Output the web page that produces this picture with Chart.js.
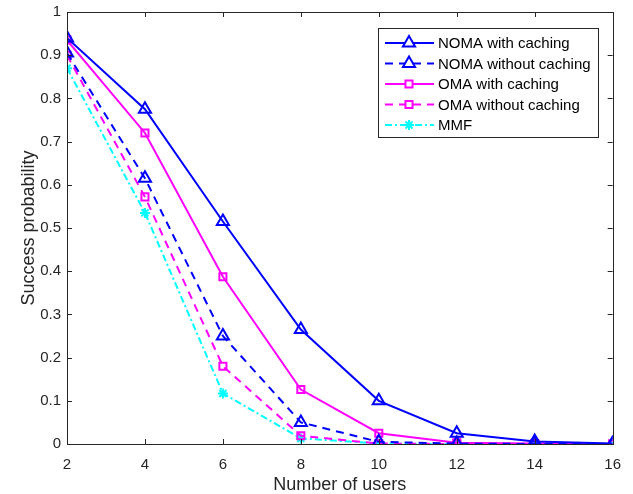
<!DOCTYPE html>
<html>
<head>
<meta charset="utf-8">
<script src="https://cdn.jsdelivr.net/npm/chart.js@4/dist/chart.umd.min.js"></script>
<style>
  html, body { margin: 0; padding: 0; background: #fff; }
  #wrap { width: 633px; height: 494px; }
</style>
</head>
<body>
<div id="wrap"><canvas id="successChart" width="633" height="494"></canvas></div>
<script>
var users = [2, 4, 6, 8, 10, 12, 14, 16];
var xTicks = [2, 4, 6, 8, 10, 12, 14, 16];
var yTicks = [0, 0.1, 0.2, 0.3, 0.4, 0.5, 0.6, 0.7, 0.8, 0.9, 1];

var nomaCaching   = [0.940, 0.775, 0.515, 0.265, 0.100, 0.025, 0.006, 0.001];
var nomaNoCaching = [0.905, 0.615, 0.250, 0.050, 0.005, 0.001, 0.000, 0.000];
var omaCaching    = [0.935, 0.720, 0.387, 0.126, 0.025, 0.003, 0.001, 0.000];
var omaNoCaching  = [0.900, 0.572, 0.180, 0.019, 0.001, 0.000, 0.000, 0.000];
var mmf           = [0.870, 0.535, 0.117, 0.013, 0.001, 0.000, 0.000, 0.000];

var seriesNames = ["NOMA with caching", "NOMA without caching", "OMA with caching", "OMA without caching", "MMF"];

var FONT = '"Liberation Sans", Arial, sans-serif';

function toPoints(vals) {
    var pts = [];
    for (var i = 0; i < users.length; i++) {
        pts.push({ x: users[i], y: vals[i] });
    }
    return pts;
}

function makeSet(label, vals, color, dash, style, radius) {
    var fillCol = style === 'star' ? color : 'rgba(0,0,0,0)';
    return {
        label: label,
        data: toPoints(vals),
        borderColor: color,
        backgroundColor: fillCol,
        borderWidth: 2,
        borderDash: dash,
        pointStyle: style,
        pointRadius: radius,
        pointBorderWidth: 2,
        pointBorderColor: color,
        pointBackgroundColor: fillCol,
        tension: 0,
        fill: false
    };
}

var datasets = [
    makeSet(seriesNames[0], nomaCaching, '#0000ff', [], 'triangle', 7),
    makeSet(seriesNames[1], nomaNoCaching, '#0000ff', [8, 6], 'triangle', 7),
    makeSet(seriesNames[2], omaCaching, '#ff00ff', [], 'rect', 5),
    makeSet(seriesNames[3], omaNoCaching, '#ff00ff', [8, 6], 'rect', 5),
    makeSet(seriesNames[4], mmf, '#00ffff', [7, 3, 2, 3], 'star', 5)
];

// box, inward ticks on all four sides, and the legend
var framePlugin = {
    id: 'frame',
    afterDraw: function (chart) {
        var ctx = chart.ctx;
        var a = chart.chartArea;
        var xs = chart.scales.x, ys = chart.scales.y;
        ctx.save();
        ctx.strokeStyle = '#262626';
        ctx.lineWidth = 1;
        ctx.setLineDash([]);
        ctx.beginPath();
        for (var i = 0; i < xTicks.length; i++) {
            var px = Math.round(xs.getPixelForValue(xTicks[i])) + 0.5;
            ctx.moveTo(px, a.bottom); ctx.lineTo(px, a.bottom - 5);
            ctx.moveTo(px, a.top); ctx.lineTo(px, a.top + 5);
        }
        for (var j = 0; j < yTicks.length; j++) {
            var py = Math.round(ys.getPixelForValue(yTicks[j])) + 0.5;
            ctx.moveTo(a.left, py); ctx.lineTo(a.left + 5, py);
            ctx.moveTo(a.right, py); ctx.lineTo(a.right - 5, py);
        }
        ctx.stroke();
        ctx.strokeRect(Math.round(a.left) + 0.5, Math.round(a.top) + 0.5,
            Math.round(a.right - a.left), Math.round(a.bottom - a.top));

        // legend
        var lx = 378, ly = 28, lw = 220, lh = 109;
        ctx.fillStyle = '#fff';
        ctx.fillRect(lx, ly, lw, lh);
        ctx.strokeStyle = '#262626';
        ctx.strokeRect(lx + 0.5, ly + 0.5, lw, lh);
        ctx.font = '15px ' + FONT;
        ctx.textBaseline = 'middle';
        for (var k = 0; k < datasets.length; k++) {
            var d = datasets[k];
            var cy = 43 + k * 20.5;
            ctx.strokeStyle = d.borderColor;
            ctx.lineWidth = 2;
            ctx.setLineDash(d.borderDash);
            ctx.beginPath();
            ctx.moveTo(385, cy); ctx.lineTo(434, cy);
            ctx.stroke();
            ctx.setLineDash([]);
            ctx.fillStyle = d.pointStyle === 'star' ? d.borderColor : '#fff';
            Chart.helpers.drawPoint(ctx, {
                pointStyle: d.pointStyle,
                radius: d.pointRadius,
                borderWidth: 2,
                rotation: 0
            }, 409, cy);
            ctx.fillStyle = '#000';
            ctx.fillText(d.label, 438, cy + 1);
        }
        ctx.restore();
    }
};

var ctx = document.getElementById('successChart').getContext('2d');
var chart = new Chart(ctx, {
    type: 'line',
    data: { datasets: datasets },
    options: {
        responsive: false,
        animation: false,
        layout: { padding: { top: 12, right: 19, left: 0, bottom: 0 } },
        plugins: {
            legend: { display: false },
            tooltip: { enabled: false }
        },
        scales: {
            x: {
                type: 'linear',
                min: 2, max: 16,
                afterBuildTicks: function (s) { s.ticks = xTicks.map(function (v) { return { value: v }; }); },
                afterFit: function (s) { s.height = 50; },
                grid: { display: false, drawTicks: false },
                border: { display: false },
                ticks: { color: '#262626', padding: 12, maxRotation: 0,
                    font: { size: 15, family: FONT } },
                title: { display: true, text: 'Number of users', color: '#262626', padding: { top: 0, bottom: 0 },
                    font: { size: 18, family: FONT, lineHeight: 1 } }
            },
            y: {
                min: 0, max: 1,
                afterBuildTicks: function (s) { s.ticks = yTicks.map(function (v) { return { value: v }; }); },
                afterFit: function (s) { s.width = 67; },
                grid: { display: false, drawTicks: false },
                border: { display: false },
                ticks: { color: '#262626', padding: 6,
                    callback: function (v) { return String(Math.round(v * 10) / 10); },
                    font: { size: 15, family: FONT, lineHeight: 0.8 } },
                title: { display: true, text: 'Success probability', color: '#262626', padding: { top: 20, bottom: 0 },
                    font: { size: 18, family: FONT, lineHeight: 1 } }
            }
        }
    },
    plugins: [framePlugin]
});
</script>
</body>
</html>
